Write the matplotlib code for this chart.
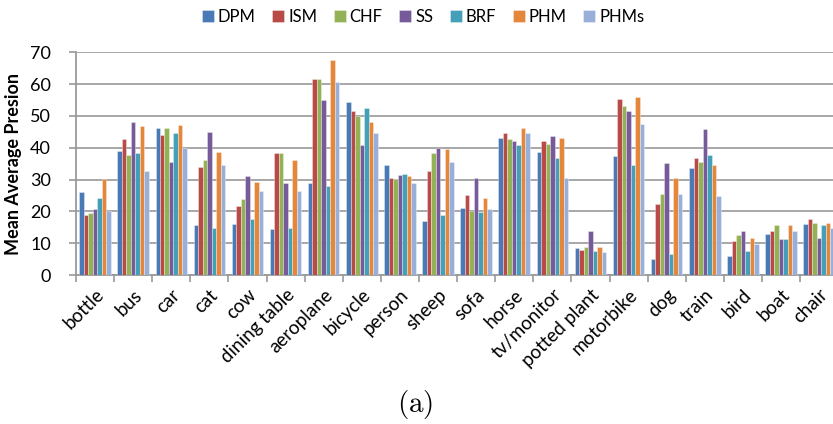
import numpy as np
import matplotlib
matplotlib.use("Agg")
import matplotlib.pyplot as plt

categories = ["bottle", "bus", "car", "cat", "cow", "dining table", "aeroplane",
              "bicycle", "person", "sheep", "sofa", "horse", "tv/monitor",
              "potted plant", "motorbike", "dog", "train", "bird", "boat", "chair"]

DPM  = [26.1, 39.0, 46.3, 15.7, 16.1, 14.5, 28.8, 54.3, 34.6, 17.0, 21.0, 43.1, 38.6, 8.5, 37.3, 4.9, 33.7, 5.9, 13.0, 16.1]
ISM  = [18.8, 42.6, 44.0, 34.0, 21.6, 38.2, 61.7, 51.7, 30.5, 32.8, 25.1, 44.5, 42.2, 8.0, 55.3, 22.4, 36.8, 10.7, 13.9, 17.6]
CHF  = [19.6, 37.7, 46.3, 36.3, 23.8, 38.2, 61.7, 49.9, 30.1, 38.2, 20.2, 42.6, 41.3, 8.9, 53.0, 25.5, 35.4, 12.6, 15.6, 16.5]
SS   = [20.6, 48.1, 35.4, 44.9, 31.0, 28.8, 54.9, 40.8, 31.4, 40.0, 30.5, 42.2, 43.7, 13.9, 51.6, 35.1, 45.8, 13.9, 11.2, 11.6]
BRF  = [24.2, 38.2, 44.5, 14.8, 17.6, 14.8, 27.9, 52.6, 31.9, 18.8, 19.7, 40.8, 36.8, 7.5, 34.6, 6.7, 37.7, 7.5, 11.2, 15.6]
PHM  = [30.1, 46.8, 47.1, 38.6, 29.2, 36.0, 67.5, 48.1, 31.0, 39.6, 24.2, 46.3, 43.1, 8.9, 56.1, 30.5, 34.6, 11.6, 15.6, 16.5]
PHMs = [20.2, 32.8, 39.8, 34.6, 26.5, 26.5, 60.6, 44.5, 28.8, 35.5, 20.6, 44.5, 30.5, 7.1, 47.6, 25.5, 24.7, 9.7, 13.9, 14.8]

series_names = ["DPM", "ISM", "CHF", "SS", "BRF", "PHM", "PHMs"]
series_vals = [DPM, ISM, CHF, SS, BRF, PHM, PHMs]
colors = ["#4A7AB5", "#B84A47", "#92B255", "#765A99", "#449FB8", "#E5873B", "#98AFD9"]

plt.rcParams['font.family'] = ['Lato', 'DejaVu Sans']
plt.rcParams['mathtext.fontset'] = 'cm'

fig = plt.figure(figsize=(8.33, 4.24), dpi=100)
ax = fig.add_axes([0.0912, 0.3514, 0.915, 0.5252])

x = np.arange(len(categories))
w = 0.118
n = len(series_names)
for k, (name, vals, c) in enumerate(zip(series_names, series_vals, colors)):
    ax.bar(x + (k - (n - 1) / 2) * w, vals, width=w, color=c, label=name,
           edgecolor=(1, 1, 1, 0.6), linewidth=0.4, zorder=3)

ax.set_xlim(-0.5, len(categories) - 0.5)
ax.set_ylim(0, 70)
ax.set_yticks(range(0, 71, 10))
ax.yaxis.grid(True, color="#A0A0A0", linewidth=1.3, zorder=0)
ax.set_axisbelow(True)

for s in ["top", "right"]:
    ax.spines[s].set_visible(False)
for s in ["left", "bottom"]:
    ax.spines[s].set_color("#9A9A9A")
    ax.spines[s].set_linewidth(1.3)

ax.set_xticks(x)
ax.set_xticklabels(categories, rotation=45, ha="right", rotation_mode="anchor", fontsize=13.5)
ax.tick_params(axis="x", which="major", length=0, pad=8)
ax.set_xticks(np.arange(-0.5, len(categories), 1.0), minor=True)
ax.tick_params(axis="x", which="minor", length=5, color="#9A9A9A", width=1.2)
ax.tick_params(axis="y", length=5, color="#9A9A9A", width=1.2, labelsize=13, pad=13)

ax.set_ylabel("Mean Average Presion", fontsize=13, fontweight="bold", labelpad=6)

fig.legend(loc="upper center", bbox_to_anchor=(0.508, 1.015), ncol=7, frameon=False,
           fontsize=12, handlelength=0.7, handleheight=0.7, handletextpad=0.25,
           columnspacing=1.0)

fig.text(0.498, 0.045, r"$\mathrm{(a)}$", ha="center", va="center", fontsize=21)

fig.savefig("out.png", dpi=100)
